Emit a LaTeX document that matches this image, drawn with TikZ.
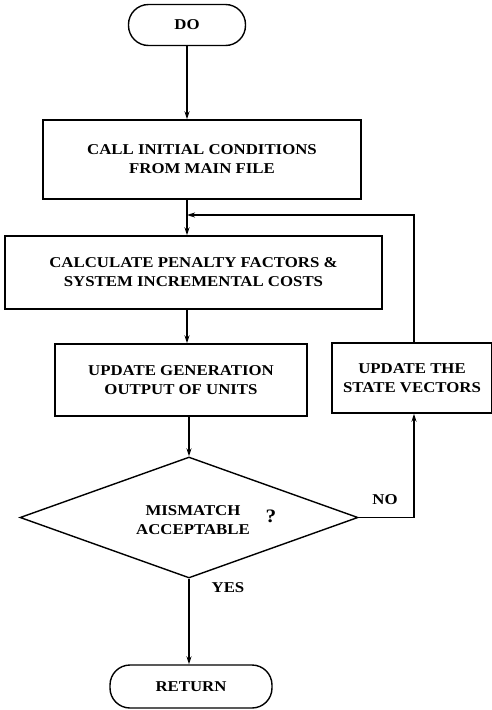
\documentclass[tikz,border=0pt]{standalone}
\usepackage{fontspec}
\setmainfont{Liberation Serif}[FakeStretch=1.12]
\usetikzlibrary{arrows.meta,shapes.geometric}
\begin{document}
\begin{tikzpicture}[x=1pt,y=-1pt,
  every node/.style={font=\fontsize{15}{19}\selectfont\bfseries},
  box/.style={draw,line width=1.4pt,align=center,inner sep=0pt},
  term/.style={draw,line width=1.4pt,rounded corners=20pt,inner sep=0pt},
  arr/.style={line width=1.9pt,-{Stealth[length=8pt,width=5pt]}},
  lbl/.style={inner sep=0pt}]
\useasboundingbox (0,0) rectangle (492,710);
\node[term,minimum width=117pt,minimum height=41pt] (do) at (187,25) {DO};
\node[box,minimum width=318pt,minimum height=79pt] (b1) at (202,159.5) {CALL INITIAL CONDITIONS\\FROM MAIN FILE};
\node[box,minimum width=377pt,minimum height=73pt] (b2) at (193.5,272.5) {CALCULATE PENALTY FACTORS \&\\SYSTEM INCREMENTAL COSTS};
\node[box,minimum width=252pt,minimum height=72pt] (b3) at (181,380) {UPDATE GENERATION\\OUTPUT OF UNITS};
\node[box,minimum width=160pt,minimum height=70pt] (b4) at (412,378) {UPDATE THE\\STATE VECTORS};
\node[draw,diamond,line width=1.4pt,minimum width=338pt,minimum height=121pt,inner sep=0pt] (dm) at (189,517.5) {};
\node[lbl,align=center] (dmt) at (193,520) {MISMATCH\\ACCEPTABLE};
\node[lbl,font=\fontsize{19}{19}\selectfont\bfseries] (q) at (271,516) {?};
\node[term,minimum width=162pt,minimum height=43pt] (ret) at (191,686.5) {RETURN};
\node[lbl] (no) at (385,500) {NO};
\node[lbl] (yes) at (228,588) {YES};
\coordinate (loopin) at (187,215);
\coordinate (loopcorner) at (414,215);
\coordinate (nocorner) at (414,517.5);
\draw[arr] (do.south) -- (do.south |- b1.north);
\draw[arr] (b1.south -| do) -- (do |- b2.north);
\draw[arr] (b2.south -| do) -- (do |- b3.north);
\draw[arr] (b3.south -| dm.north) -- (dm.north);
\draw[arr] (dm.south) -- (dm.south |- ret.north);
\draw[arr] (dm.east) -- (nocorner) -- (b4.south -| nocorner);
\draw[arr] (b4.north -| loopcorner) -- (loopcorner) -- (loopin);
\end{tikzpicture}
\end{document}
